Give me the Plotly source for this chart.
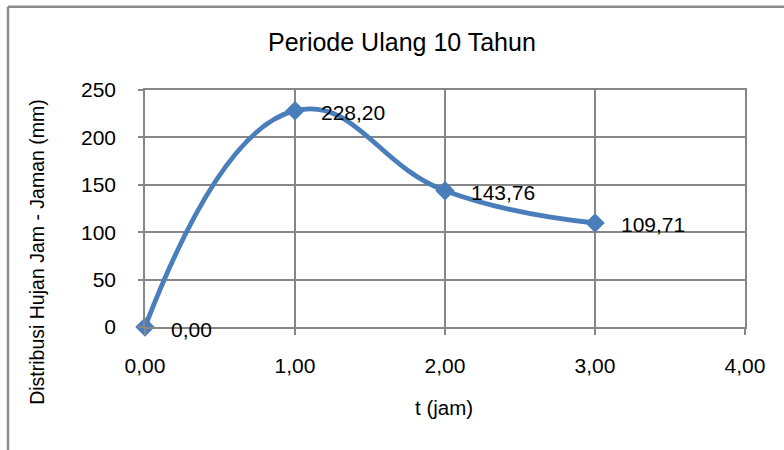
import plotly.graph_objects as go

# Hourly rainfall distribution, 10-year return period
t_jam = [0.0, 1.0, 2.0, 3.0]
hujan_mm = [0.00, 228.20, 143.76, 109.71]
x_ticks = [0, 1, 2, 3, 4]
y_ticks = [0, 50, 100, 150, 200, 250]

FONT = "Liberation Sans, Arial, sans-serif"
BLUE = "#4A7EBB"
GRID = "#878787"

W, H = 784, 450
ML, MR, MT, MB = 145, 39, 89.5, 122.5
PW, PH = W - ML - MR, H - MT - MB


def fmt(v):
    return f"{v:.2f}".replace(".", ",")


def px_x(p):
    return (p - ML) / PW


def px_y(p):
    return (H - MB - p) / PH


fig = go.Figure()
fig.add_trace(go.Scatter(
    x=t_jam, y=hujan_mm,
    mode="lines+markers",
    line=dict(color=BLUE, width=4.8, shape="spline", smoothing=1.3),
    marker=dict(symbol="diamond", size=15, color=BLUE),
    cliponaxis=False,
    showlegend=False,
    hoverinfo="skip",
))

annotations = []
for xv, yv in zip(t_jam, hujan_mm):
    annotations.append(dict(
        x=xv, y=yv, xref="x", yref="y",
        text=fmt(yv), showarrow=False,
        xanchor="left", yanchor="middle",
        xshift=24, yshift=-2,
        font=dict(family=FONT, size=21, color="#000000"),
    ))

annotations.append(dict(
    x=px_x(401.5), y=px_y(41), xref="paper", yref="paper",
    text="Periode Ulang 10 Tahun", showarrow=False,
    xanchor="center", yanchor="middle",
    font=dict(family=FONT, size=25, color="#000000"),
))
annotations.append(dict(
    x=px_x(444), y=px_y(408), xref="paper", yref="paper",
    text="t (jam)", showarrow=False,
    xanchor="center", yanchor="middle",
    font=dict(family=FONT, size=20.5, color="#000000"),
))
annotations.append(dict(
    x=px_x(37), y=px_y(252), xref="paper", yref="paper",
    text="Distribusi Hujan Jam - Jaman (mm)", showarrow=False,
    textangle=-90, xanchor="center", yanchor="middle",
    font=dict(family=FONT, size=19.5, color="#000000"),
))

shapes = [
    dict(type="line", xref="paper", yref="paper",
         x0=px_x(8), x1=px_x(W + 10), y0=px_y(6), y1=px_y(6),
         line=dict(color="#8C8C8C", width=2.5)),
    dict(type="line", xref="paper", yref="paper",
         x0=px_x(8), x1=px_x(8), y0=px_y(6), y1=px_y(H + 10),
         line=dict(color="#8C8C8C", width=2.5)),
]

fig.update_layout(
    width=W, height=H,
    margin=dict(l=ML, r=MR, t=MT, b=MB),
    paper_bgcolor="white", plot_bgcolor="white",
    font=dict(family=FONT, size=20, color="#000000"),
    annotations=annotations,
    shapes=shapes,
    xaxis=dict(
        range=[0, 4], tickvals=x_ticks,
        ticktext=[fmt(v) for v in x_ticks],
        showgrid=True, gridcolor=GRID, gridwidth=1.5,
        zeroline=False,
        showline=True, mirror=True, linecolor=GRID, linewidth=1.5,
        ticks="outside", ticklen=6, tickcolor=GRID, tickwidth=1.5,
        ticklabelstandoff=13,
        tickfont=dict(family=FONT, size=21, color="#000000"),
        fixedrange=True,
    ),
    yaxis=dict(
        range=[0, 250], tickvals=y_ticks,
        showgrid=True, gridcolor=GRID, gridwidth=1.5,
        zeroline=False,
        showline=True, mirror=True, linecolor=GRID, linewidth=1.5,
        ticks="outside", ticklen=5, tickcolor=GRID, tickwidth=1.5,
        ticklabelstandoff=18,
        tickfont=dict(family=FONT, size=21, color="#000000"),
        fixedrange=True,
    ),
)

fig.write_html("out.html")
